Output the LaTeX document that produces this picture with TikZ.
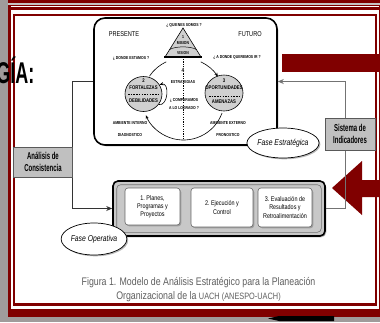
\documentclass[tikz,border=0pt]{standalone}
\usepackage{fontspec}
\setmainfont{Liberation Sans}
\newfontfamily\nfont[FakeStretch=0.8]{Liberation Sans}
\newfontfamily\cfont[FakeStretch=0.6]{Liberation Sans}
\usetikzlibrary{positioning, shapes.geometric, arrows.meta, shadows}
\definecolor{marron}{RGB}{128,0,0}
\definecolor{fondo}{RGB}{160,155,155}
\definecolor{capgray}{RGB}{95,95,95}
\definecolor{boxgray}{RGB}{192,192,192}
\definecolor{circgray}{RGB}{208,208,208}
\definecolor{opgray}{RGB}{200,200,200}

\begin{document}
\begin{tikzpicture}[x=1pt, y=-1pt,
  mini/.style={font=\nfont\fontsize{4.3}{5}\selectfont\bfseries, inner sep=0pt},
  rotulo/.style={font=\nfont\fontsize{7}{8}\selectfont, inner sep=0pt},
  circtxt/.style={font=\nfont\fontsize{5.3}{6}\selectfont\bfseries, inner sep=0pt},
  circ/.style={ellipse, draw, fill=circgray, line width=0.6pt, minimum width=37pt, minimum height=35pt},
  sombra/.style={drop shadow={shadow xshift=1.3pt, shadow yshift=-1.3pt, fill=black!55}},
  fase/.style={ellipse, draw, fill=white, line width=0.7pt, sombra, inner sep=0pt, font=\nfont\itshape\fontsize{8.5}{9}\selectfont},
  gris/.style={draw=black!65, fill=boxgray, line width=0.6pt, inner sep=0pt, align=center, font=\cfont\bfseries\fontsize{10}{12.5}\selectfont},
  paso/.style={draw=black!60, fill=white, rounded corners=3pt, line width=0.6pt, sombra, align=center, inner sep=0pt, font=\nfont\fontsize{6.8}{8.2}\selectfont},
  ciclo/.style={line width=0.6pt},
  punta/.style={-{Stealth[length=4pt, width=3.2pt]}},
  enlace/.style={line width=0.8pt, -{Stealth[length=6pt, width=5pt]}},
]
\useasboundingbox (0,0) rectangle (380,322);

% marco de la diapositiva
\fill[fondo] (0,0) rectangle (380,322);
\fill[marron] (8,-1) rectangle (381,317);
\draw[fondo!60!white, line width=1.4pt] (8,4) -- (381,4);
\fill[white] (10.5,5.5) rectangle (378.5,308.5);
\draw[marron, line width=2.4pt] (10.5,8.3) -- (378.5,8.3);
\draw[marron, line width=2.5pt, fill=white] (14,15) rectangle (376,304.5);
\fill[black] (268,318.5) -- (279,316) -- (334,316) -- (334,321) -- (279,321) -- cycle;

% flechas rojas
\fill[marron] (282,54) rectangle (381,72);
\fill[marron] (332,188) -- (362,161) -- (362,180) -- (381,180) -- (381,197) -- (362,197) -- (362,215) -- cycle;

% fase estrategica
\node[draw, fill=white, line width=1.6pt, rounded corners=11pt, sombra, minimum width=183pt, minimum height=127pt] (fe) at (185.5,81.5) {};

\node[rotulo] (pres) at (124,34) {PRESENTE};
\node[rotulo] (fut) at (250,34) {FUTURO};
\node[mini] (quien) at (184,25) {¿ QUIENES SOMOS ?};
\node[mini] (donde) at (131,58) {¿ DONDE ESTAMOS ?};
\node[mini] (adonde) at (237,57) {¿ A DONDE QUEREMOS IR ?};

\coordinate (cima) at (183,28);
\coordinate (bizq) at (165,57);
\coordinate (bder) at (201,57);
\draw[fill=circgray, line width=0.6pt] (cima) -- (bder) -- (bizq) -- cycle;
\draw[line width=1.6pt] ([xshift=-1pt]bizq) -- ([xshift=1pt]bder);
\draw[line width=0.5pt] (169.5,49.5) .. controls (176,46) and (190,46) .. (196.5,49.5);
\node[mini] (uno) at (183,37) {1};
\node[mini] (mis) at (183,43.5) {MISION};
\node[mini] (vis) at (183,53) {VISION};

\node[circ] (fd) at (143.5,94) {};
\node[circtxt] (dos) at (143.5,81) {2};
\node[circtxt] (fort) at (143.5,88) {FORTALEZAS};
\draw[dashed, dash pattern=on 1.5pt off 1.2pt] (128,94.5) -- (159,94.5);
\node[circtxt] (deb) at (143.5,101) {DEBILIDADES};

\node[circ, minimum width=38pt, minimum height=36pt] (oa) at (224,93) {};
\node[circtxt] (tres) at (224,80.5) {3};
\node[circtxt] (opor) at (224,87.5) {OPORTUNIDADES};
\draw[dashed, dash pattern=on 1.5pt off 1.2pt] (209,96) -- (239,96);
\node[circtxt] (amen) at (224,101.5) {AMENAZAS};

% ciclo
\coordinate (cyc) at (183.5,99);
\draw[ciclo] ([shift={(245:41)}]cyc) arc[start angle=245, end angle=214, radius=41];
\draw[ciclo, punta] ([shift={(295:41)}]cyc) arc[start angle=295, end angle=327, radius=41];
\draw[ciclo, punta] ([shift={(20:41)}]cyc) arc[start angle=20, end angle=157, radius=41];
\draw[ciclo, punta] (fd.-35) .. controls +(10,2) and +(10,-3) .. (fd.30);
\draw[line width=0.6pt, dash pattern=on 1.2pt off 1.2pt] (183,59) -- (183,140);

\node[mini, font=\nfont\fontsize{6}{6}\selectfont\bfseries, fill=white, inner sep=0.3pt] (cuatro) at (183,70.5) {4};
\node[mini] (estr) at (183,82) {ESTRATEGIAS};
\node[mini, align=center, font=\nfont\fontsize{4.3}{7.5}\selectfont\bfseries] (comp) at (184,104) {¿ COMPARAMOS\\A LO LOGRADO ?};
\node[mini, align=center, font=\nfont\fontsize{4.3}{12}\selectfont\bfseries] (aint) at (130,129) {AMBIENTE INTERNO\\DIAGNOSTICO};
\node[mini, align=center, font=\nfont\fontsize{4.3}{12}\selectfont\bfseries] (aext) at (228,129) {AMBIENTE EXTERNO\\PRONOSTICO};

% fase operativa
\node[draw, fill=opgray, line width=1.6pt, rounded corners=5pt, sombra, minimum width=212pt, minimum height=55pt] (fo) at (219,208.5) {};
\draw[black!55, line width=0.6pt, rounded corners=4pt] ([shift={(4.5,4.5)}]fo.north west) rectangle ([shift={(-4.5,-4.5)}]fo.south east);
\node[paso, minimum width=55pt, minimum height=37pt] (p1) at (152.5,206.5) {1.\ Planes,\\Programas y\\Proyectos};
\node[paso, minimum width=62pt, minimum height=39pt] (p2) at (222,207.5) {2.\ Ejecución y\\Control};
\node[paso, minimum width=54pt, minimum height=39pt] (p3) at (285,207.5) {3.\ Evaluación de\\Resultados y\\Retroalimentación};

% retroalimentacion
\draw[enlace, black!80] (fe.west) -- ++(-21,0) |- (fo.west);
\draw[enlace, black!55] (fo.east) -- ++(20,0) |- (fe.east);

\node[gris, minimum width=59pt, minimum height=30pt] (ac) at (43,162) {Análisis de\\Consistencia};
\node[gris, minimum width=50pt, minimum height=32pt] (si) at (350,134) {Sistema de\\Indicadores};

\node[fase, minimum width=60pt, minimum height=30pt] (fes) at (283,143) {Fase Estratégica};
\node[fase, minimum width=62pt, minimum height=32pt] (fop) at (94,239) {Fase Operativa};

% pie de figura
\node[font=\nfont\fontsize{11}{12}\selectfont, text=capgray, inner sep=0pt] (cap1) at (198.5,283) {Figura 1. Modelo de Análisis Estratégico para la Planeación};
\node[below=2.5pt of cap1, font=\nfont\fontsize{11}{12}\selectfont, text=capgray, inner sep=0pt] (cap2) {Organizacional de la {\fontsize{9.2}{10}\selectfont UACH (ANESPO-UACH)}};

\node[font=\cfont\bfseries\fontsize{30}{30}\selectfont, anchor=base east, inner sep=0pt] (gia) at (34.5,83) {GÍA:};
\end{tikzpicture}
\end{document}
